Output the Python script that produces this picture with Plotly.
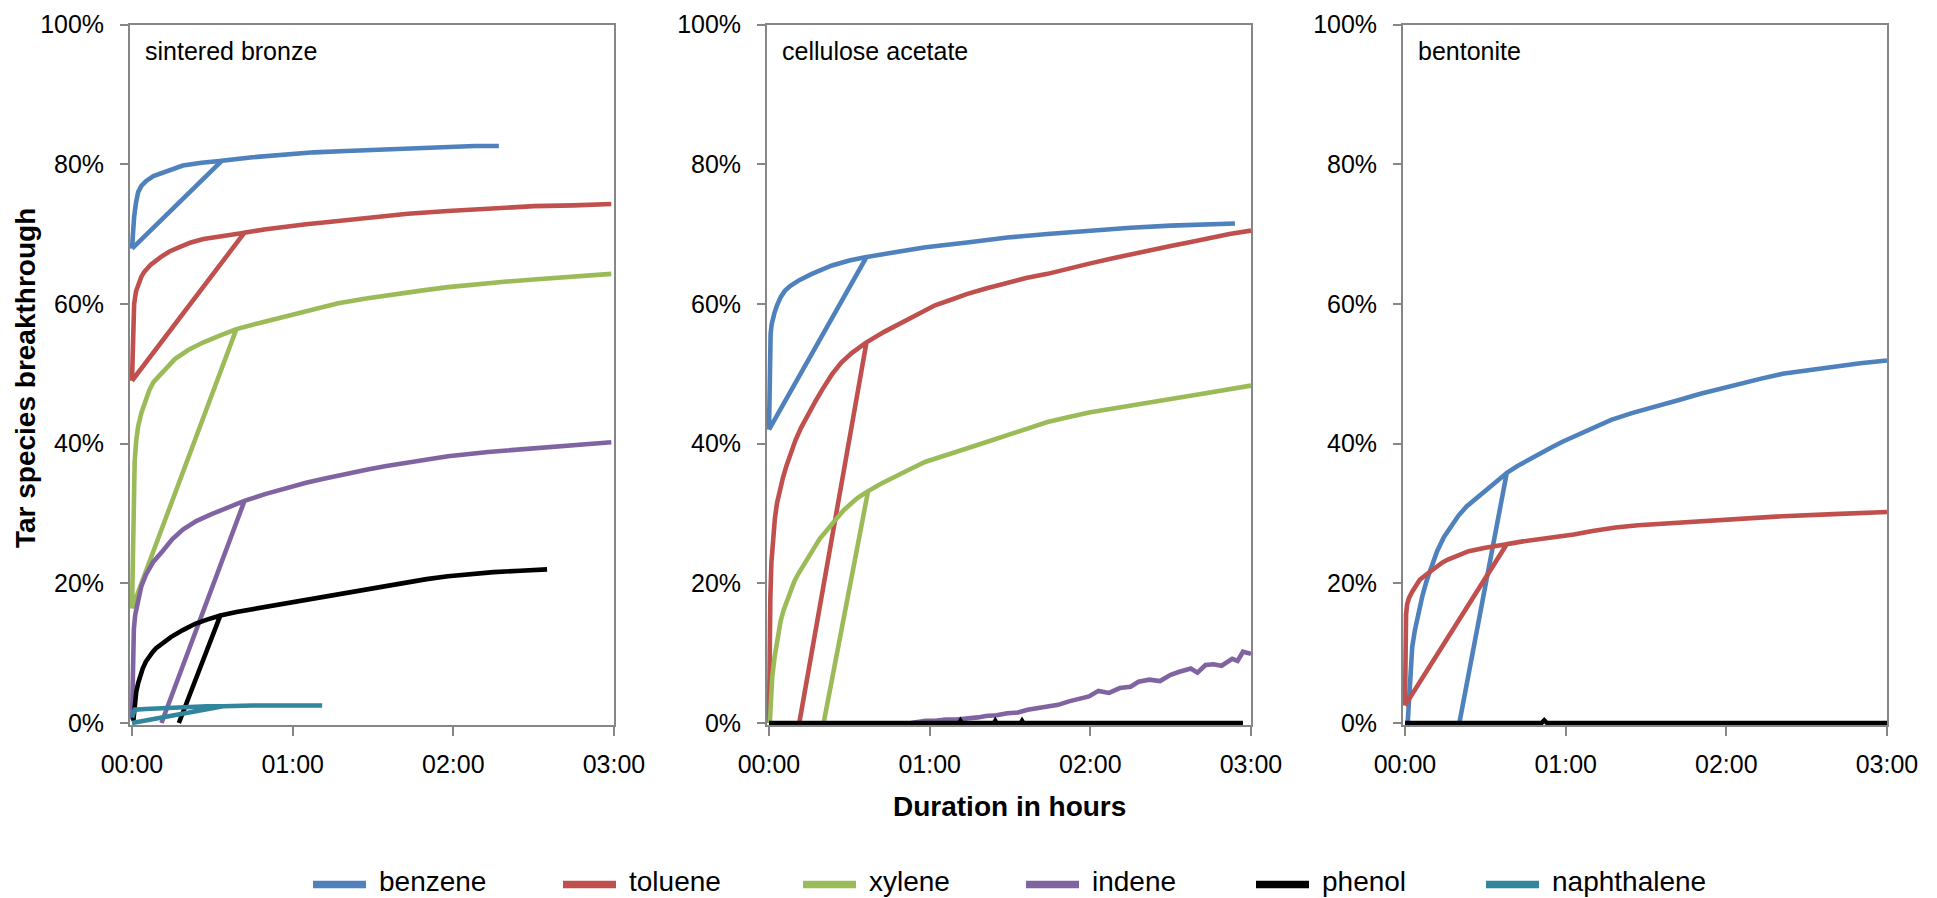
import plotly.graph_objects as go

# ---------------- data (time in minutes, breakthrough in %) ----------------
species = ["benzene", "toluene", "xylene", "indene", "phenol", "naphthalene"]
colors = ["#4F81BD", "#C0504D", "#9BBB59", "#8064A2", "#000000", "#31859C"]
panel_labels = ["sintered bronze", "cellulose acetate", "bentonite"]
x_tick_vals = [0, 60, 120, 180]
x_tick_text = ["00:00", "01:00", "02:00", "03:00"]
y_tick_vals = [0, 20, 40, 60, 80, 100]
y_tick_text = ["0%", "20%", "40%", "60%", "80%", "100%"]

# sintered bronze
sb_benzene_t = [0, 0.3, 0.8, 1.5, 2.3, 3.5, 5.3, 8, 11.4, 15, 19, 26, 33.6, 0, 33.6, 45, 57, 68, 80, 92, 103, 118, 128, 137]
sb_benzene_v = [67.9, 70.5, 72.5, 74.5, 76, 76.9, 77.6, 78.3, 78.8, 79.3, 79.8, 80.2, 80.5, 67.9, 80.5, 81.0, 81.4, 81.7, 81.9, 82.1, 82.3, 82.5, 82.6, 82.6]
sb_toluene_t = [0, 0.3, 0.8, 1.5, 2.5, 3.5, 4.6, 7, 10.7, 14, 17.5, 22, 26.7, 34, 42, 0, 42, 50, 57, 65, 72.5, 80, 88, 95, 103, 118, 133, 150, 165, 179]
sb_toluene_v = [49, 55, 60, 61.8, 63, 63.9, 64.6, 65.6, 66.7, 67.5, 68.1, 68.8, 69.3, 69.8, 70.2, 49, 70.2, 70.7, 71.1, 71.4, 71.7, 72.0, 72.3, 72.6, 72.9, 73.3, 73.7, 74.0, 74.1, 74.3]
sb_xylene_t = [0, 0.3, 0.6, 1, 1.6, 2.3, 3.5, 5, 6.5, 8, 9.9, 13, 16, 21, 26.7, 33, 39, 0, 39, 48, 57, 67, 77, 88, 98, 108, 118, 130, 140, 150, 160, 170, 179]
sb_xylene_v = [16.4, 25, 33, 37.5, 40.5, 42.5, 44.4, 46.3, 47.7, 48.8, 49.6, 51, 52.1, 53.4, 54.5, 55.5, 56.4, 16.4, 56.4, 57.3, 58.2, 59.2, 60.1, 60.8, 61.4, 61.9, 62.4, 62.9, 63.2, 63.5, 63.8, 64.1, 64.3]
sb_indene_t = [0, 0.3, 0.7, 1.2, 2.3, 3.5, 5.3, 8, 11.4, 15, 19, 24, 29.7, 36, 42, 11, 42, 50, 57, 65, 72, 80, 88, 95, 103, 110, 118, 133, 149, 165, 179]
sb_indene_v = [0.5, 10.4, 13.5, 15.5, 17.8, 19.6, 21.3, 23.1, 24.6, 26.3, 27.7, 28.9, 29.9, 30.9, 31.8, 0, 31.8, 32.8, 33.6, 34.4, 35.0, 35.7, 36.3, 36.8, 37.3, 37.8, 38.2, 38.8, 39.3, 39.8, 40.2]
sb_phenol_t = [0.5, 1, 1.6, 2.3, 3, 4, 5.2, 6.5, 7.6, 9, 11, 14.5, 19, 23.6, 28, 33, 17.5, 33, 39, 45, 51, 57, 64, 72, 80, 88, 96, 103, 110, 118, 126, 135, 145, 155]
sb_phenol_v = [0.3, 3, 4.5, 5.7, 6.7, 7.8, 8.8, 9.6, 10.1, 10.7, 11.3, 12.3, 13.3, 14.2, 14.8, 15.4, 0, 15.4, 15.9, 16.3, 16.7, 17.1, 17.6, 18.2, 18.7, 19.2, 19.7, 20.2, 20.6, 21.0, 21.3, 21.6, 21.8, 22.0]
sb_naph_t = [0, 0.5, 1, 5, 10, 16, 22, 28, 34, 0, 34, 45, 58, 71]
sb_naph_v = [0.8, 1.5, 1.9, 2.0, 2.1, 2.2, 2.3, 2.4, 2.4, 0, 2.4, 2.5, 2.5, 2.5]

# cellulose acetate
ca_benzene_t = [0, 0.2, 0.4, 0.6, 1.0, 1.5, 2.1, 3, 4.4, 6, 8, 11.3, 16, 23.5, 30, 36.4, 0, 36.4, 47, 58.5, 74, 89, 104, 119.5, 135, 150, 162, 174]
ca_benzene_v = [42, 48, 53, 55.7, 57.1, 58.0, 58.8, 59.8, 61, 61.9, 62.6, 63.4, 64.3, 65.5, 66.2, 66.7, 42, 66.7, 67.4, 68.1, 68.8, 69.5, 70.0, 70.5, 70.9, 71.2, 71.4, 71.5]
ca_toluene_t = [0, 0.2, 0.5, 0.9, 1.5, 2.2, 3.0, 4.0, 5.2, 6.5, 8, 9.8, 12, 14.5, 17.4, 20, 23.5, 27, 31, 36.4, 11.3, 36.4, 43, 50.9, 57, 62, 68, 73.8, 81, 89, 96, 104, 112, 120, 128, 135, 143, 150, 158, 165, 172, 180]
ca_toluene_v = [0, 10, 18, 23, 26.5, 29.3, 31.5, 33.4, 35.1, 36.8, 38.6, 40.4, 42.3, 44.2, 46.1, 47.8, 49.9, 51.6, 53.0, 54.5, 0, 54.5, 56, 57.6, 58.8, 59.8, 60.6, 61.4, 62.2, 63.0, 63.7, 64.3, 65.1, 65.8, 66.5, 67.1, 67.7, 68.3, 68.9, 69.5, 70.0, 70.5]
ca_xylene_t = [0.3, 0.7, 1.2, 2.1, 3.2, 4.4, 5.5, 6.7, 8, 9.5, 11, 13, 15, 17, 19, 21, 23, 25.5, 28, 30.5, 33, 37, 20.4, 37, 42, 47, 53, 58.5, 66, 73.8, 81, 89, 96, 104, 112, 120, 128, 135, 143, 150, 158, 165, 172, 180]
ca_xylene_v = [0, 3.5, 6.5, 9.5, 12.5, 14.7, 16.2, 17.5, 18.9, 20.3, 21.4, 22.7, 24.0, 25.2, 26.4, 27.3, 28.3, 29.4, 30.5, 31.4, 32.2, 33.2, 0, 33.2, 34.3, 35.3, 36.4, 37.4, 38.4, 39.3, 40.2, 41.2, 42.2, 43.1, 43.8, 44.5, 45.0, 45.4, 45.9, 46.4, 46.9, 47.3, 47.8, 48.3]
ca_indene_t = [53, 56, 58.5, 62, 66, 70, 74, 78, 81, 85, 89, 93, 96.6, 100, 104, 108, 112, 116, 119.5, 123, 127, 131, 135, 138, 142, 146,
               150, 153, 157.5, 160, 163, 166, 169, 173, 175, 177, 180]
ca_indene_v = [0, 0.2, 0.3, 0.3, 0.5, 0.5, 0.6, 0.8, 1.0, 1.1, 1.4, 1.5, 1.9, 2.1, 2.4, 2.6, 3.1, 3.5, 3.8, 4.6, 4.3, 5.0, 5.2, 5.9, 6.2, 6.0,
               6.9, 7.3, 7.8, 7.2, 8.3, 8.4, 8.2, 9.2, 8.9, 10.2, 9.9]
ca_phenol_t = [0, 71, 71.5, 72, 84, 84.5, 85, 94, 94.5, 95, 177]
ca_phenol_v = [0, 0, 0.3, 0, 0, 0.3, 0, 0, 0.3, 0, 0]

# bentonite
bt_benzene_t = [1, 1.5, 2, 2.7, 3.7, 5, 6.5, 8.1, 10, 12, 14.5, 17.5, 20, 23, 27, 31.6, 38, 20.3, 38, 42, 47, 51, 55, 59, 63, 70, 77, 85, 94, 102, 110, 118, 125, 133, 141, 150, 160, 170, 180]
bt_benzene_v = [0, 4, 7.5, 10.9, 13.3, 15.8, 18.2, 20.4, 22.6, 24.6, 26.6, 28.4, 29.7, 31.0, 32.3, 33.6, 35.8, 0, 35.8, 36.8, 37.9, 38.7, 39.5, 40.3, 41.0, 42.2, 43.4, 44.4, 45.3, 46.2, 47.1, 47.9, 48.6, 49.3, 50.0, 50.5, 51.0, 51.5, 51.9]
bt_toluene_t = [0, 0.1, 0.2, 0.4, 0.8, 1.5, 2.7, 4, 5.5, 8.1, 10, 12, 14, 16, 20, 23.8, 30, 38, 0, 38, 44, 50, 56, 63, 70, 78.6, 87, 95, 110, 125, 141, 160, 180]
bt_toluene_v = [2.5, 8, 12.5, 15.5, 17.0, 17.9, 18.8, 19.7, 20.5, 21.3, 21.9, 22.5, 23.0, 23.4, 24.1, 24.6, 25.1, 25.6, 2.5, 25.6, 26.0, 26.3, 26.7, 27.0, 27.5, 28.0, 28.3, 28.5, 28.9, 29.3, 29.6, 29.9, 30.2]
bt_phenol_t = [0, 51, 52, 53, 180]
bt_phenol_v = [0, 0, 0.4, 0, 0]

panels = [
    {"benzene": (sb_benzene_t, sb_benzene_v), "toluene": (sb_toluene_t, sb_toluene_v),
     "xylene": (sb_xylene_t, sb_xylene_v), "indene": (sb_indene_t, sb_indene_v),
     "phenol": (sb_phenol_t, sb_phenol_v), "naphthalene": (sb_naph_t, sb_naph_v)},
    {"benzene": (ca_benzene_t, ca_benzene_v), "toluene": (ca_toluene_t, ca_toluene_v),
     "xylene": (ca_xylene_t, ca_xylene_v), "indene": (ca_indene_t, ca_indene_v),
     "phenol": (ca_phenol_t, ca_phenol_v)},
    {"benzene": (bt_benzene_t, bt_benzene_v), "toluene": (bt_toluene_t, bt_toluene_v),
     "phenol": (bt_phenol_t, bt_phenol_v)},
]

# ---------------- layout helpers ----------------
W, H = 1937, 898
FONT = "Liberation Sans, Arial, sans-serif"
AXC = "#868686"


def px(x):
    return x / W


def py(y):
    return 1 - y / H


panel_px = [(132, 614), (769, 1251), (1405, 1887)]
y_top, y_bot = 24.5, 723
X_PAD = 0.8    # minutes shown left of 00:00 so lines on the axis are not clipped
Y_PAD = 0.35   # percent shown below 0%
ppm = (panel_px[0][1] - panel_px[0][0]) / 180.0
ppp = (y_bot - y_top) / 100.0

fig = go.Figure()
for i, data in enumerate(panels):
    sfx = "" if i == 0 else str(i + 1)
    for name, col in zip(species, colors):
        if name not in data:
            continue
        t, v = data[name]
        fig.add_trace(go.Scatter(
            x=t, y=v, mode="lines", name=name, legendgroup=name, showlegend=False,
            line=dict(color=col, width=4.6),
            xaxis="x" + sfx, yaxis="y" + sfx, hoverinfo="skip"))

axis_common = dict(showline=True, linecolor=AXC, linewidth=1.5, mirror=True, automargin=False,
                   showgrid=False, zeroline=False, ticks="outside", tickcolor=AXC,
                   tickwidth=1.5, tickfont=dict(family=FONT, size=25, color="black"))
layout = dict(width=W, height=H, margin=dict(l=0, r=0, t=0, b=0, autoexpand=False),
              paper_bgcolor="white", plot_bgcolor="white", showlegend=False)
for i, (x0, x1) in enumerate(panel_px):
    sfx = "" if i == 0 else str(i + 1)
    layout["xaxis" + sfx] = dict(axis_common, domain=[px(x0 - X_PAD * ppm), px(x1)], range=[-X_PAD, 180],
                                 tickvals=x_tick_vals, ticktext=x_tick_text, ticklen=9,
                                 ticklabelstandoff=7, anchor="y" + sfx)
    layout["yaxis" + sfx] = dict(axis_common, domain=[py(y_bot + Y_PAD * ppp), py(y_top)], range=[-Y_PAD, 100],
                                 tickvals=y_tick_vals, ticktext=y_tick_text, ticklen=8,
                                 ticklabelstandoff=11, anchor="x" + sfx)
fig.update_layout(**layout)

ann = []
for (x0, x1), lab in zip(panel_px, panel_labels):
    ann.append(dict(text=lab, x=px(x0 + 11), y=py(51), xref="paper", yref="paper",
                    xanchor="left", yanchor="middle", showarrow=False,
                    font=dict(family=FONT, size=25, color="black")))
ann.append(dict(text="<b>Tar species breakthrough</b>", x=px(25), y=py(378), xref="paper", yref="paper",
                xanchor="center", yanchor="middle", textangle=-90, showarrow=False,
                font=dict(family=FONT, size=28, color="black")))
ann.append(dict(text="<b>Duration in hours</b>", x=px(1010), y=py(806), xref="paper", yref="paper",
                xanchor="center", yanchor="middle", showarrow=False,
                font=dict(family=FONT, size=28, color="black")))

# legend (drawn manually to match the original layout)
leg_line_x = [310, 560, 800, 1023, 1253, 1483]
leg_y = 884.5
shapes = []
for name, col, lx in zip(species, colors, leg_line_x):
    shapes.append(dict(type="line", xref="paper", yref="paper", x0=px(lx + 3), x1=px(lx + 56),
                       y0=py(leg_y), y1=py(leg_y), line=dict(color=col, width=7.5)))
    ann.append(dict(text=name, x=px(lx + 68), y=py(897.5), xref="paper", yref="paper",
                    xanchor="left", yanchor="bottom", showarrow=False, borderpad=0,
                    font=dict(family=FONT, size=28, color="black")))
fig.update_layout(annotations=ann, shapes=shapes)

fig.write_html("out.html")
